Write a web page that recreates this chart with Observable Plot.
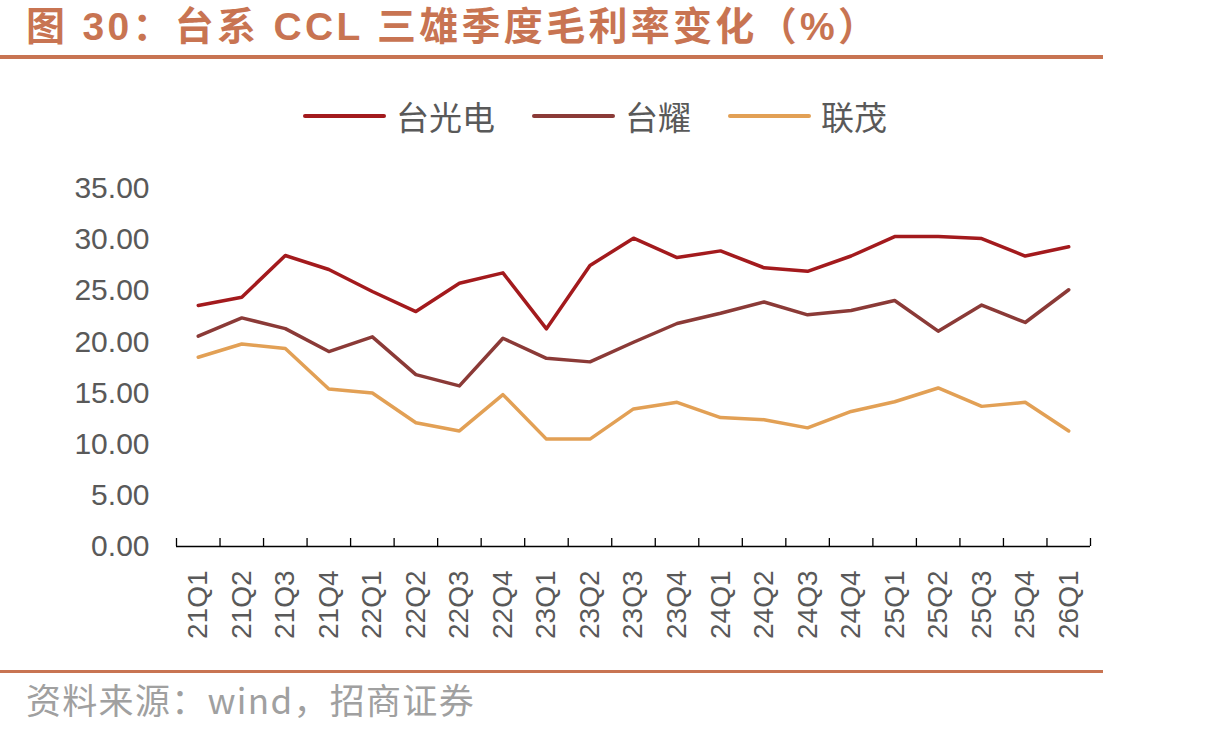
<!DOCTYPE html>
<html>
<head>
<meta charset="utf-8">
<script src="https://cdn.jsdelivr.net/npm/d3@7"></script>
<script src="https://cdn.jsdelivr.net/npm/@observablehq/plot@0.6"></script>
<style>
  body { margin: 0; width: 1210px; height: 732px; position: relative; background: #fff; overflow: hidden; }
  #title { position: absolute; left: 26px; top: 7px; font: bold 39px 'Liberation Sans', 'Noto Sans CJK SC', sans-serif; letter-spacing: 3.3px; color: #c87452; line-height: 40px; white-space: nowrap; }
  .hr { position: absolute; left: 0; width: 1103px; background: #c87452; }
  #legend { position: absolute; left: 303px; top: 99px; height: 34px; display: flex; align-items: center; font: 33px 'Noto Sans CJK SC', sans-serif; color: #595959; white-space: nowrap; }
  #legend .sw { width: 83px; height: 4px; border-radius: 2px; margin-right: 10px; }
  #legend .item { display: flex; align-items: center; margin-right: 37px; line-height: 34px; }
  #chart { position: absolute; left: 0; top: 150px; }
  #source { position: absolute; left: 26px; top: 681px; font: 35px 'Noto Sans CJK SC', sans-serif; letter-spacing: 1.3px; color: #a0a0a0; line-height: 36px; white-space: nowrap; }
</style>
</head>
<body>
<div id="title">图 30：台系 CCL 三雄季度毛利率变化（%）</div>
<div class="hr" style="top:55px;height:4px"></div>
<div id="legend"></div>
<div id="chart"></div>
<div class="hr" style="top:670px;height:3px"></div>
<div id="source">资料来源：wind，招商证券</div>
<script>
const quarters = ["21Q1","21Q2","21Q3","21Q4","22Q1","22Q2","22Q3","22Q4","23Q1","23Q2","23Q3","23Q4","24Q1","24Q2","24Q3","24Q4","25Q1","25Q2","25Q3","25Q4","26Q1"];
const taiguangdian = [23.56, 24.37, 28.45, 27.08, 24.93, 22.97, 25.74, 26.75, 21.28, 27.47, 30.14, 28.25, 28.9, 27.25, 26.9, 28.4, 30.3, 30.3, 30.1, 28.4, 29.3];
const taiyao = [20.56, 22.35, 21.3, 19.06, 20.5, 16.8, 15.7, 20.36, 18.4, 18.05, 19.97, 21.8, 22.8, 23.9, 22.65, 23.07, 24.05, 21.05, 23.6, 21.9, 25.1];
const lianmao = [18.5, 19.8, 19.35, 15.4, 15.0, 12.1, 11.3, 14.85, 10.5, 10.5, 13.45, 14.1, 12.6, 12.4, 11.6, 13.2, 14.15, 15.5, 13.7, 14.1, 11.3];
const seriesNames = ["台光电", "台耀", "联茂"];
const seriesColors = ["#a31a1d", "#8b3a37", "#e2a055"];
const yTicks = [0, 5, 10, 15, 20, 25, 30, 35];

const rows = [];
[taiguangdian, taiyao, lianmao].forEach((vals, s) =>
  vals.forEach((v, i) => rows.push({series: seriesNames[s], q: quarters[i], i, v}))
);

// legend
const legend = document.getElementById("legend");
seriesNames.forEach((name, k) => {
  const item = document.createElement("div");
  item.className = "item";
  const sw = document.createElement("div");
  sw.className = "sw";
  sw.style.background = seriesColors[k];
  const t = document.createElement("span");
  t.textContent = name;
  item.appendChild(sw);
  item.appendChild(t);
  legend.appendChild(item);
});

const chart = Plot.plot({
  width: 1210,
  height: 500,
  marginTop: 38,
  marginBottom: 104,
  marginLeft: 176,
  marginRight: 120,
  x: {domain: [0, quarters.length], axis: null},
  y: {domain: [0, 35], axis: null},
  color: {domain: seriesNames, range: seriesColors},
  style: {fontFamily: "'Liberation Sans', Arial, sans-serif", background: "transparent", overflow: "visible"},
  marks: [
    Plot.axisY(yTicks, {tickSize: 0, tickPadding: 27, tickFormat: d => d.toFixed(2), fontSize: 30, fill: "#595959", label: null}),
    Plot.ruleY([0], {stroke: "#000", strokeWidth: 1.3}),
    Plot.ruleX(d3.range(quarters.length + 1), {x: d => d, y1: 0, y2: 0, insetTop: -8, stroke: "#000", strokeWidth: 1.3}),
    Plot.text(quarters, {x: (d, i) => i + 0.5, y: 0, text: d => d, rotate: -90, textAnchor: "end", dy: 24, fontSize: 28, fill: "#595959"}),
    Plot.line(rows, {x: d => d.i + 0.5, y: "v", z: "series", stroke: "series", strokeWidth: 3.5})
  ]
});
document.getElementById("chart").appendChild(chart);
</script>
</body>
</html>
